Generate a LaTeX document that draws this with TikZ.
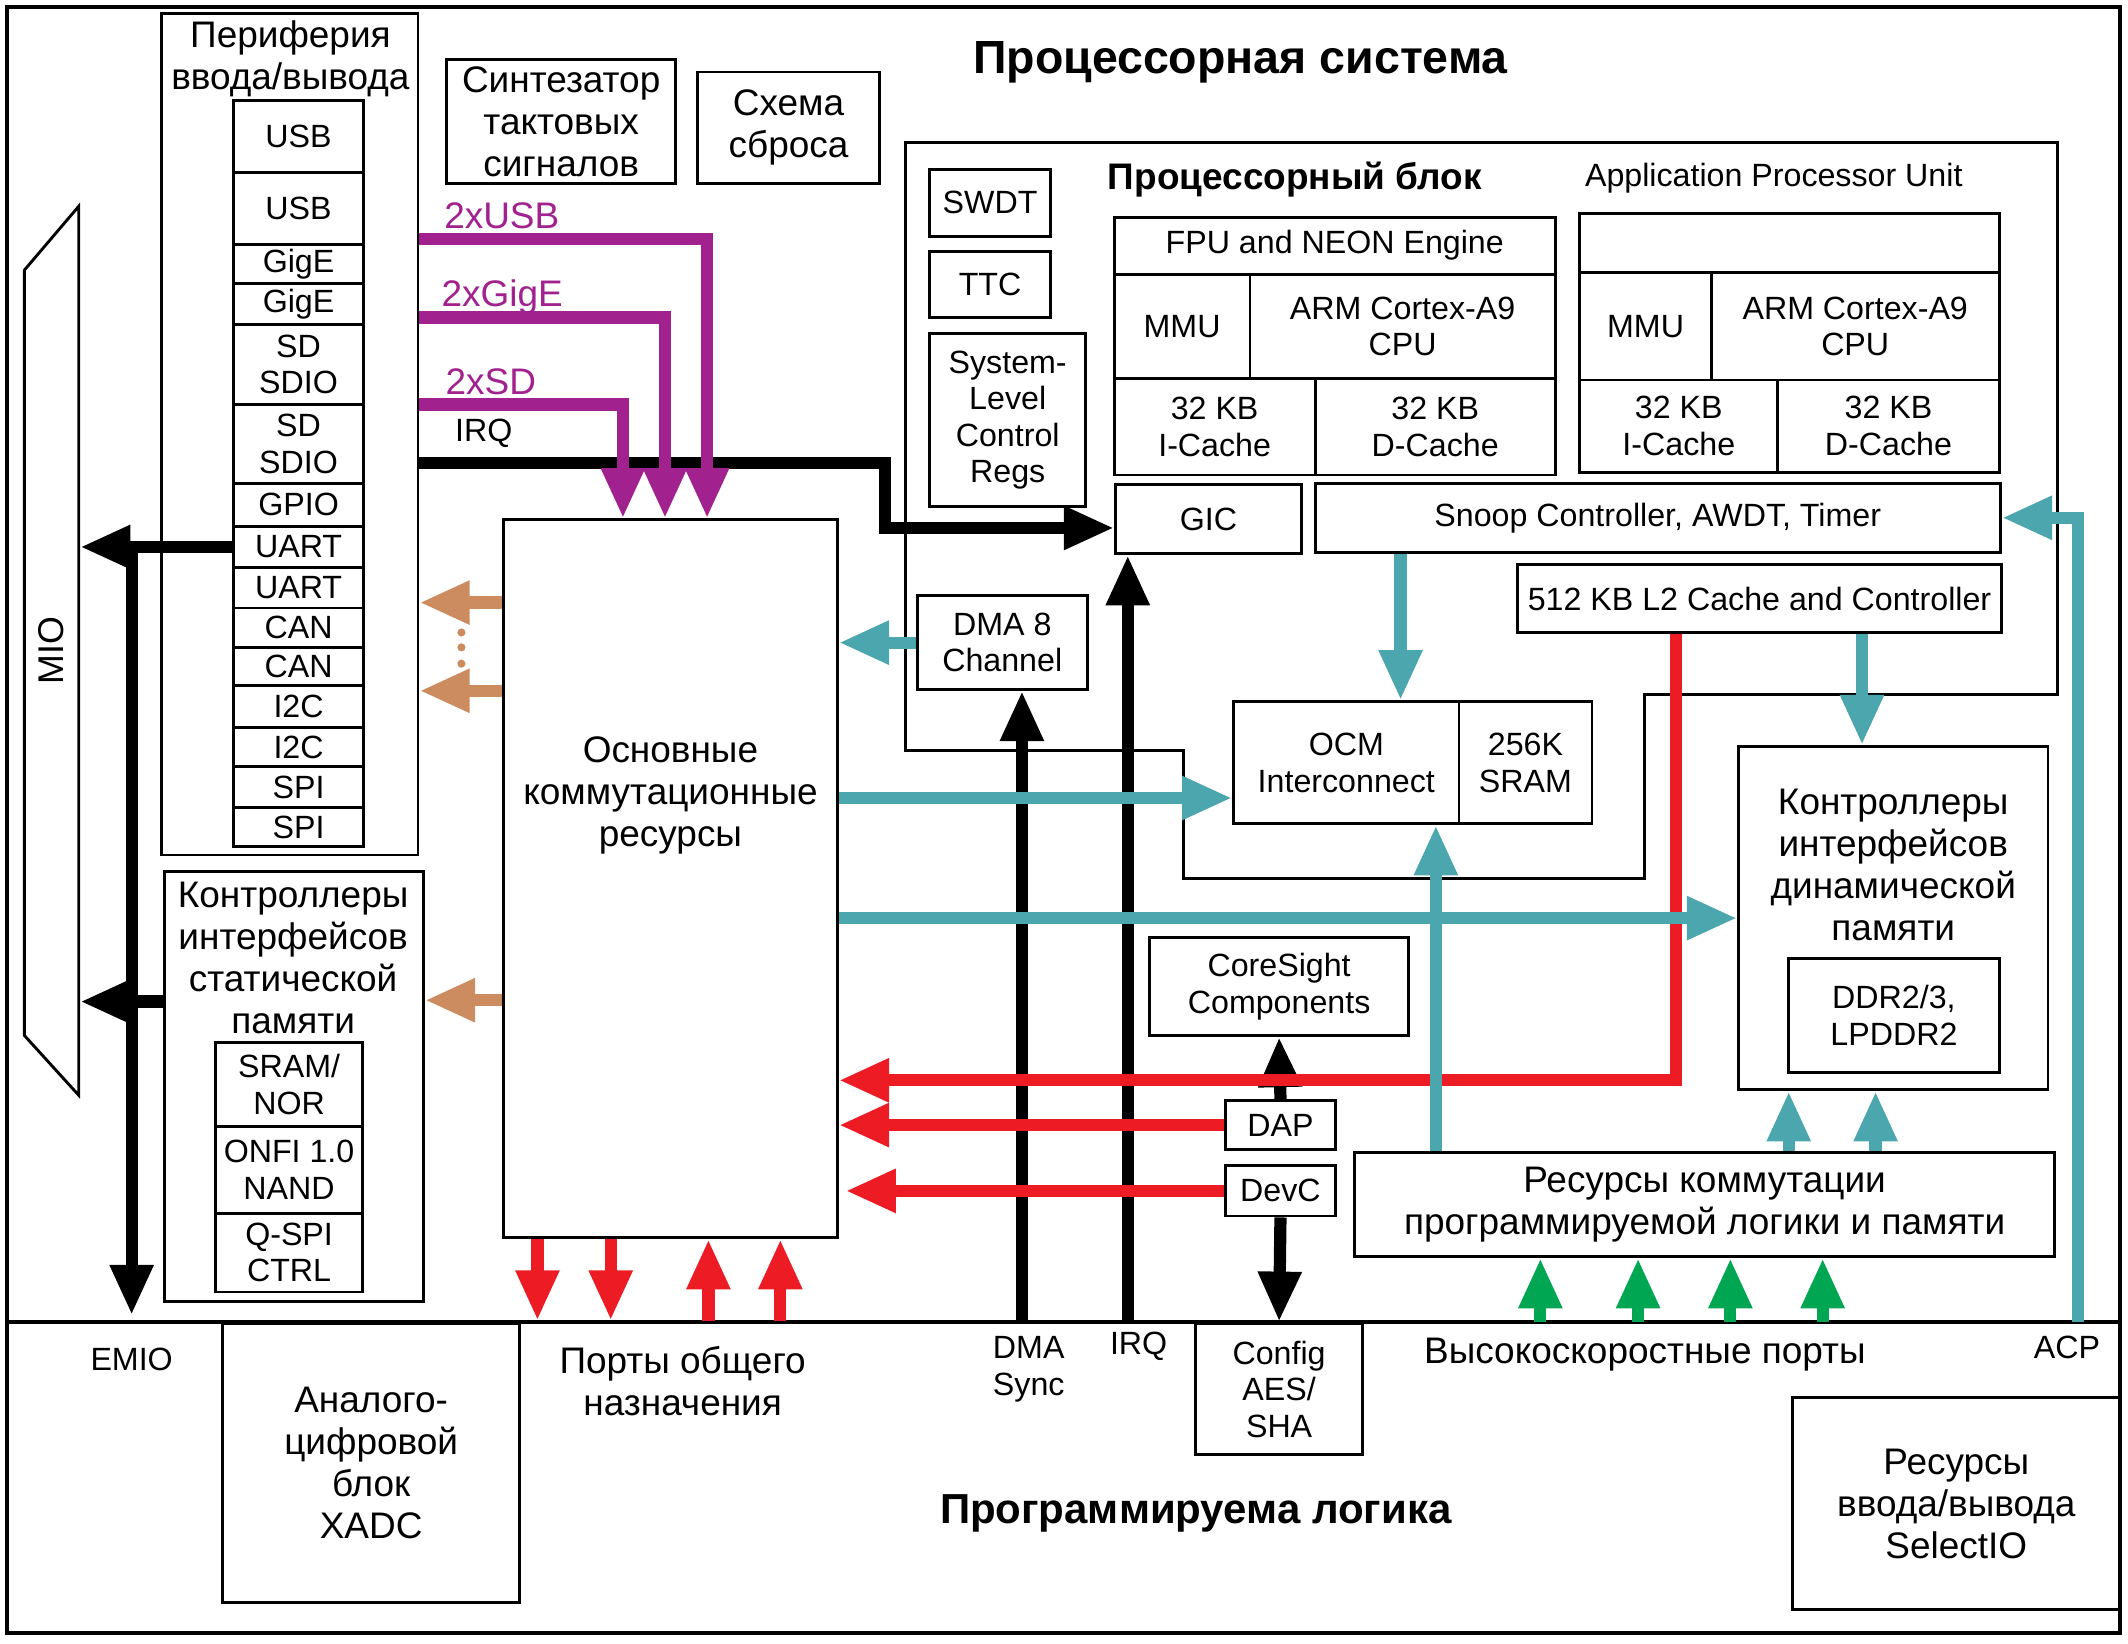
\documentclass[tikz,border=0pt]{standalone}
\usepackage{fontspec}
\setmainfont{Liberation Sans}
\usepackage{graphicx}
\usetikzlibrary{arrows.meta}
\definecolor{busviolet}{RGB}{161,34,142}
\definecolor{busteal}{RGB}{75,166,173}
\definecolor{busred}{RGB}{237,28,36}
\definecolor{bustan}{RGB}{205,140,95}
\definecolor{busgreen}{RGB}{0,166,81}
\newcommand\rutext{\fontsize{15.5}{17.6}\selectfont}
\newcommand\entext{\fontsize{13.5}{15.3}\selectfont}
\newcommand\blk[6][]{\node[box,minimum width={(#4-#2)*0.02cm},minimum height={(#5-#3)*0.02cm},#1] (#6) at ({(#2+#4)/2},{(#3+#5)/2})}

\begin{document}
\begin{tikzpicture}[x=0.02cm,y=-0.02cm,>={Triangle[length=0.74cm,width=0.6cm]},
    box/.style={draw,line width=1.2pt,align=center,inner sep=0pt,font=\entext},
    ru/.style={font=\rutext},
    lbl/.style={align=center,inner sep=0pt,font=\entext},
    bus/.style={line width=0.18cm,->}]
    \useasboundingbox (0,0) rectangle (1568,1211);
    \draw[line width=1.6pt] (5,5) rectangle (1562,1203);
    \draw[line width=1.6pt] (5,974) -- (1562,974);
    \draw[line width=1.2pt] (667,105) -- (1516,105) -- (1516,512) -- (1212,512) -- (1212,647) -- (872,647) -- (872,553) -- (667,553) -- cycle;
    \draw[line width=1.2pt] (18,199) -- (58,152) -- (58,807) -- (18,763) -- cycle;

    \node[lbl,font=\fontsize{19.5}{22}\selectfont\bfseries] (pstitle) at (914,46) {Процессорная система};
    \node[lbl,font=\fontsize{15.5}{17}\selectfont\bfseries] (aputitle) at (954,132) {Процессорный блок};
    \node[lbl] (apuname) at (1307,131) {Application Processor Unit};
    \node[lbl,font=\fontsize{17.6}{20}\selectfont\bfseries] (pltitle) at (881,1115) {Программируема логика};

    \blk{119}{10}{308}{630}{perio} {};
    \node[lbl,ru] (periotext) at (214,43) {Периферия\\ввода/вывода};
    \foreach \n/\a/\b/\t in {usbA/74/127/USB, usbB/127/180/USB, gigeA/180/209/GigE, gigeB/209/239/GigE,
        sdA/239/298/{SD\\SDIO}, sdB/298/356/{SD\\SDIO}, gpio/356/388/GPIO, uartA/388/418/UART,
        uartB/418/448/UART, canA/448/477/CAN, canB/477/505/CAN, iicA/505/536/I2C,
        iicB/536/565/I2C, spiA/565/595/SPI, spiB/595/624/SPI}
        \blk{172}{\a}{268}{\b}{\n} {\t};
    \blk[draw=none,font=\fontsize{15}{17}\selectfont]{18}{152}{58}{807}{mio} {\rotatebox{90}{MIO}};

    \blk{121}{642}{312}{959}{stat} {};
    \node[lbl,ru] (stattext) at (216,706) {Контроллеры\\интерфейсов\\статической\\памяти};
    \blk{159}{768}{267}{830}{sram} {SRAM/\\NOR};
    \blk{159}{830}{267}{894}{nand} {ONFI 1.0\\NAND};
    \blk{159}{894}{267}{952}{qspi} {Q-SPI\\CTRL};

    \blk[ru]{329}{44}{498}{135}{clk} {Синтезатор\\тактовых\\сигналов};
    \blk[ru]{514}{53}{648}{135}{rst} {Схема\\сброса};

    \blk{371}{383}{617}{912}{main} {};
    \node[lbl,ru] (maintext) at (494,586) {Основные\\коммутационные\\ресурсы};

    \blk{685}{125}{774}{174}{swdt} {SWDT};
    \blk{685}{185}{774}{234}{ttc} {TTC};
    \blk{685}{246}{800}{373}{slcr} {System-\\Level\\Control\\Regs};
    \blk{821}{160}{1146}{202}{fpuA} {FPU and NEON Engine};
    \blk{821}{202}{921}{279}{mmuA} {MMU};
    \blk{921}{202}{1146}{279}{cpuA} {ARM Cortex-A9\\CPU};
    \blk{821}{279}{969}{350}{icA} {32 KB\\I-Cache};
    \blk{969}{279}{1146}{350}{dcA} {32 KB\\D-Cache};
    \blk{1164}{157}{1473}{201}{fpuB} {};
    \blk{1164}{201}{1261}{280}{mmuB} {MMU};
    \blk{1261}{201}{1473}{280}{cpuB} {ARM Cortex-A9\\CPU};
    \blk{1164}{280}{1310}{348}{icB} {32 KB\\I-Cache};
    \blk{1310}{280}{1473}{348}{dcB} {32 KB\\D-Cache};
    \blk{822}{357}{959}{408}{gic} {GIC};
    \blk{969}{356}{1474}{407}{snoop} {Snoop Controller, AWDT, Timer};
    \blk{1118}{416}{1475}{466}{ltwo} {512 KB L2 Cache and Controller};
    \blk{676}{439}{801}{508}{dma} {DMA 8\\Channel};
    \blk{909}{517}{1075}{607}{ocm} {OCM\\Interconnect};
    \blk{1075}{517}{1173}{607}{ocram} {256K\\SRAM};

    \blk{1281}{550}{1509}{803}{ddr} {};
    \node[lbl,ru] (ddrtext) at (1395,637) {Контроллеры\\интерфейсов\\динамической\\памяти};
    \blk{1318}{706}{1473}{790}{lpddr} {DDR2/3,\\LPDDR2};

    \blk{847}{691}{1038}{763}{cs} {CoreSight\\Components};
    \blk{903}{811}{984}{847}{dap} {DAP};
    \blk{903}{859}{984}{896}{devc} {DevC};
    \blk[ru]{998}{849}{1514}{926}{plres} {Ресурсы коммутации\\программируемой логики и памяти};

    \blk[ru]{164}{975}{383}{1181}{xadc} {Аналого-\\цифровой\\блок\\XADC};
    \blk{881}{975}{1004}{1072}{cfg} {Config\\AES/\\SHA};
    \blk[ru]{1321}{1030}{1562}{1186}{selio} {Ресурсы\\ввода/вывода\\SelectIO};

    \node[lbl] (emiotext) at (97,1002) {EMIO};
    \node[lbl,ru] (gptext) at (503,1018) {Порты общего\\назначения};
    \node[lbl] (dmatext) at (758,1009) {DMA\\Sync};
    \node[lbl] (irqtext) at (839,992) {IRQ};
    \node[lbl,ru] (hptext) at (1212,998) {Высокоскоростные порты};
    \node[lbl] (acptext) at (1523,993) {ACP};

    \node[lbl,ru,text=busviolet,anchor=west] (usblbl) at (327,159) {2xUSB};
    \node[lbl,ru,text=busviolet,anchor=west] (gigelbl) at (325,219) {2xGigE};
    \node[lbl,ru,text=busviolet,anchor=west] (sdlbl) at (328,281) {2xSD};
    \node[lbl,anchor=west] (irqlbl) at (335,319) {IRQ};

    \coordinate (emio) at (97,969);
    \coordinate (dmasync) at (753,974);
    \coordinate (irqpl) at (831,974);
    \coordinate (acp) at (1531,974);
    \foreach \n/\x in {1/396,2/450,3/522,4/575} \coordinate (gp\n) at (\x,973);
    \foreach \n/\x in {1/1135,2/1207,3/1275,4/1343} \coordinate (hp\n) at (\x,974);

    \draw[bus] (perio.east |- 0,341) -| (652,389) -- (gic.west |- 0,389);
    \draw[bus] (uartA.west) -- (mio.east |- uartA.west);
    \draw[bus] (emio |- uartA.west) -- (emio);
    \draw[bus] (stat.west |- 0,738) -- (mio.east |- 0,738);
    \draw[bus] (dmasync) -- (dma.south -| dmasync);
    \draw[bus] (irqpl) -- (gic.south -| irqpl);
    \draw[bus] (dap.north) -- (cs.south);
    \draw[bus] (devc.south) -- (cfg.north);

    \draw[bus,busred] (ltwo.south -| 1235,0) |- (main.east |- 0,796);
    \draw[bus,busred] (dap.west) -- (main.east |- dap.west);
    \draw[bus,busred] (devc.west) -- ([xshift=0.1cm]main.east |- devc.west);
    \draw[bus,busred] (main.south -| gp1) -- (gp1);
    \draw[bus,busred] (main.south -| gp2) -- (gp2);
    \draw[bus,busred] (gp3) -- (main.south -| gp3);
    \draw[bus,busred] (gp4) -- (main.south -| gp4);

    \draw[bus,busteal] (dma.west) -- (main.east |- dma.west);
    \draw[bus,busteal] (main.east |- 0,588) -- (ocm.west |- 0,588);
    \draw[bus,busteal] (main.east |- ddr.west) -- (ddr.west);
    \draw[bus,busteal] (snoop.south -| 1032,0) -- (ocm.north -| 1032,0);
    \draw[bus,busteal] (ltwo.south -| 1372,0) -- (ddr.north -| 1372,0);
    \draw[bus,busteal] (plres.north -| 1058,0) -- (ocm.south -| 1058,0);
    \draw[bus,busteal] (plres.north -| 1318,0) -- (ddr.south -| 1318,0);
    \draw[bus,busteal] (plres.north -| 1382,0) -- (ddr.south -| 1382,0);
    \draw[bus,busteal] (acp) |- (snoop.east);

    \draw[bus,bustan] (main.west |- 0,444) -- (perio.east |- 0,444);
    \draw[bus,bustan] (main.west |- 0,509) -- (perio.east |- 0,509);
    \draw[bus,bustan] (main.west |- 0,737) -- (stat.east |- 0,737);
    \foreach \y in {466,477,489} \fill[bustan] (340,\y) circle [radius=3];

    \foreach \n in {1,...,4} \draw[bus,busgreen] (hp\n) -- (plres.south -| hp\n);

    \draw[bus,busviolet] (perio.east |- 0,176) -| (main.north -| 521,0);
    \draw[bus,busviolet] (perio.east |- 0,234) -| (main.north -| 490,0);
    \draw[bus,busviolet] (perio.east |- 0,298) -| (main.north -| 459,0);
\end{tikzpicture}
\end{document}
